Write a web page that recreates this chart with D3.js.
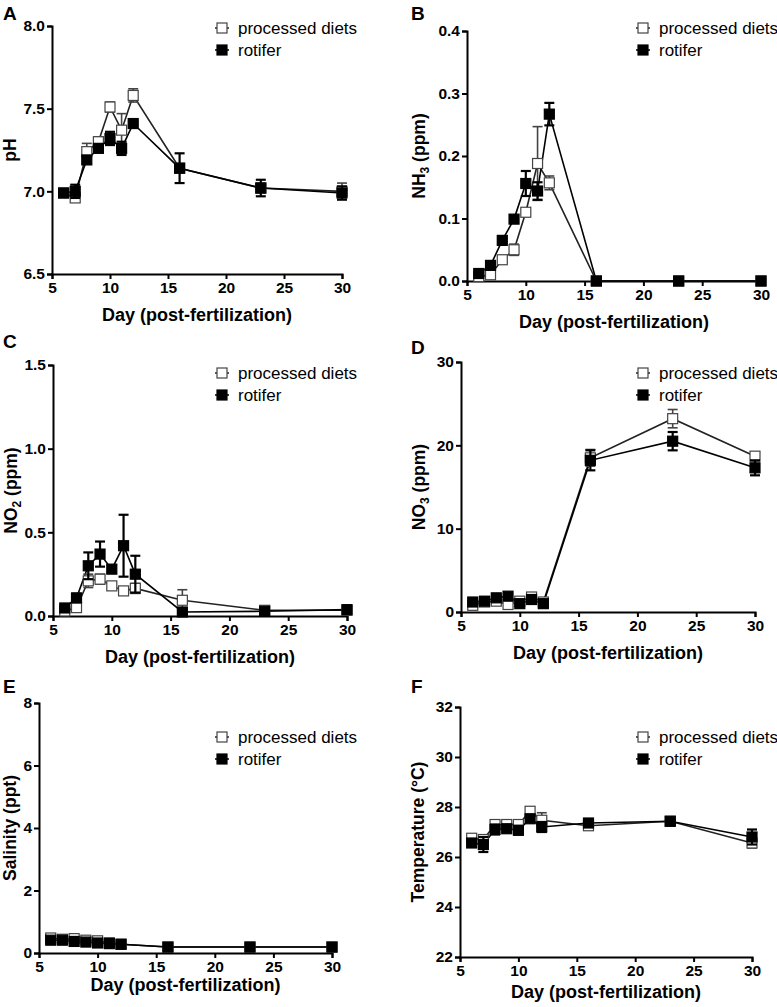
<!DOCTYPE html>
<html><head><meta charset="utf-8">
<script src="https://cdn.jsdelivr.net/npm/d3@7"></script>
<style>
body{margin:0;background:#fff;}
svg text{font-family:"Liberation Sans",Arial,sans-serif;}
</style></head>
<body><svg id="c" width="777" height="1007"></svg>
<script>
// ---- data ----
const days = [6,7,8,9,10,11,12,16,23,30];
const seriesNames = ["processed diets","rotifer"];

const phProc = [6.99,6.96,7.24,7.30,7.51,7.37,7.58,7.14,7.02,7.00];
const phProcErr = [0.02,0.02,0.05,0.03,0.03,0.10,0.04,0.02,0.03,0.05];
const phRot = [6.99,7.00,7.19,7.26,7.32,7.26,7.41,7.14,7.02,6.99];
const phRotErr = [0.02,0.04,0.02,0.02,0.04,0.04,0.01,0.09,0.05,0.04];

const nh3Proc = [0.007,0.010,0.034,0.050,0.110,0.188,0.157,0.0,0.0,0.0];
const nh3ProcErr = [0.002,0.003,0.004,0.009,0.004,0.059,0.011,0.0,0.0,0.0];
const nh3Rot = [0.012,0.025,0.065,0.099,0.156,0.144,0.267,0.0,0.0,0.0];
const nh3RotErr = [0.002,0.003,0.003,0.003,0.020,0.014,0.018,0.0,0.0,0.0];

const no2Proc = [0.03,0.05,0.21,0.22,0.18,0.15,0.165,0.094,0.034,0.034];
const no2ProcErr = [0.01,0.01,0.04,0.03,0.02,0.02,0.03,0.063,0.01,0.01];
const no2Rot = [0.048,0.108,0.30,0.37,0.28,0.42,0.25,0.024,0.028,0.038];
const no2RotErr = [0.01,0.025,0.08,0.075,0.02,0.185,0.11,0.02,0.01,0.01];

const no3Proc = [0.8,1.2,1.3,0.9,1.3,1.8,1.2,18.5,23.2,18.7];
const no3ProcErr = [0.2,0.2,0.3,0.3,0.3,0.3,0.3,1.0,1.1,0.4];
const no3Rot = [1.2,1.3,1.7,1.9,1.0,1.5,1.0,18.2,20.5,17.3];
const no3RotErr = [0.3,0.3,0.3,0.3,0.3,0.3,0.3,1.2,1.1,0.9];

const salProc = [0.48,0.44,0.46,0.41,0.39,0.33,0.28,0.19,0.19,0.19];
const salProcErr = [0.03,0.03,0.03,0.03,0.03,0.03,0.03,0.02,0.02,0.02];
const salRot = [0.41,0.41,0.37,0.35,0.32,0.30,0.28,0.19,0.19,0.19];
const salRotErr = [0.03,0.03,0.03,0.03,0.03,0.03,0.03,0.02,0.02,0.02];

const tmpProc = [26.75,26.7,27.3,27.3,27.3,27.83,27.47,27.25,27.43,26.56];
const tmpProcErr = [0.08,0.1,0.12,0.08,0.1,0.15,0.3,0.05,0.05,0.2];
const tmpRot = [26.56,26.5,27.1,27.13,27.07,27.53,27.2,27.36,27.43,26.8];
const tmpRotErr = [0.08,0.3,0.2,0.08,0.17,0.1,0.2,0.05,0.05,0.3];

const xTicks = [5,10,15,20,25,30];
const phTicks = [6.5,7.0,7.5,8.0];
const nh3Ticks = [0.0,0.1,0.2,0.3,0.4];
const no2Ticks = [0.0,0.5,1.0,1.5];
const no3Ticks = [0,10,20,30];
const salTicks = [0,2,4,6,8];
const tmpTicks = [22,24,26,28,30,32];

// ---- layout ----
const panels = [
 {letter:"A", yl:["pH"], ticks:phTicks, fmt:d3.format(".1f"), proc:phProc, pe:phProcErr, rot:phRot, re:phRotErr,
  x0:52,x1:342,yt:26,yb:274, lx:222, ly:28, lab:[3,20], ylx:10, tOff:47},
 {letter:"B", yl:["NH","3"," (ppm)"], ticks:nh3Ticks, fmt:d3.format(".1f"), proc:nh3Proc, pe:nh3ProcErr, rot:nh3Rot, re:nh3RotErr,
  x0:467,x1:761,yt:31,yb:281, lx:643, ly:28, lab:[411,20], ylx:419, tOff:47},
 {letter:"C", yl:["NO","2"," (ppm)"], ticks:no2Ticks, fmt:d3.format(".1f"), proc:no2Proc, pe:no2ProcErr, rot:no2Rot, re:no2RotErr,
  x0:53,x1:347,yt:365,yb:616, lx:222, ly:373, lab:[3,348], ylx:11, tOff:47},
 {letter:"D", yl:["NO","3"," (ppm)"], ticks:no3Ticks, fmt:d3.format("d"), proc:no3Proc, pe:no3ProcErr, rot:no3Rot, re:no3RotErr,
  x0:461,x1:755,yt:362,yb:612, lx:643, ly:373, lab:[411,354], ylx:419, tOff:47},
 {letter:"E", yl:["Salinity (ppt)"], ticks:salTicks, fmt:d3.format("d"), proc:salProc, pe:salProcErr, rot:salRot, re:salRotErr,
  x0:39,x1:332,yt:703,yb:953, lx:222, ly:737, lab:[3,693], ylx:10, tOff:38},
 {letter:"F", yl:["Temperature (°C)"], ticks:tmpTicks, fmt:d3.format("d"), proc:tmpProc, pe:tmpProcErr, rot:tmpRot, re:tmpRotErr,
  x0:460,x1:752,yt:707,yb:957, lx:643, ly:737, lab:[411,693], ylx:418, tOff:41}
];

const svg = d3.select("#c");
const MS = 10; // marker size

panels.forEach(p => {
  const g = svg.append("g");
  const x = d3.scaleLinear().domain([5,30]).range([p.x0,p.x1]);
  const y = d3.scaleLinear().domain([p.ticks[0], p.ticks[p.ticks.length-1]]).range([p.yb,p.yt]);

  // axes
  const xa = g.append("g").attr("transform",`translate(0,${p.yb})`)
    .call(d3.axisBottom(x).tickValues(xTicks).tickSize(5).tickPadding(3).tickFormat(d3.format("d")));
  const ya = g.append("g").attr("transform",`translate(${p.x0},0)`)
    .call(d3.axisLeft(y).tickValues(p.ticks).tickSize(5).tickPadding(2).tickFormat(p.fmt));
  [xa,ya].forEach(a=>{
    a.select(".domain").attr("stroke","#000").attr("stroke-width",2);
    a.selectAll(".tick line").attr("stroke","#000").attr("stroke-width",2);
    a.selectAll(".tick text").attr("fill","#000").style("font-size","15.5px").style("font-weight","bold");
  });

  // axis titles
  g.append("text").attr("x",(p.x0+p.x1)/2).attr("y",p.yb+p.tOff).attr("text-anchor","middle")
    .style("font-size","18px").style("font-weight","bold").text("Day (post-fertilization)");
  const yt = g.append("text").attr("transform",`translate(${p.ylx},${(p.yt+p.yb)/2}) rotate(-90)`)
    .attr("text-anchor","middle").attr("dy","0.35em").style("font-size","17.5px").style("font-weight","bold");
  if (p.yl.length===1) yt.text(p.yl[0]);
  else {
    yt.append("tspan").text(p.yl[0]);
    yt.append("tspan").attr("dy","4").style("font-size","12px").text(p.yl[1]);
    yt.append("tspan").attr("dy","-4").text(p.yl[2]);
  }
  // panel letter
  g.append("text").attr("x",p.lab[0]).attr("y",p.lab[1]).style("font-size","19px").style("font-weight","bold").text(p.letter);

  const series = [
    {v:p.proc, e:p.pe, fill:"#fff", stroke:"#444", lineCol:"#222"},
    {v:p.rot, e:p.re, fill:"#000", stroke:"#000", lineCol:"#000"}
  ];
  const line = d3.line().x((d,i)=>x(days[i])).y(d=>y(d));
  series.forEach(s=>{
    g.append("path").datum(s.v).attr("d",line).attr("fill","none").attr("stroke",s.lineCol).attr("stroke-width",1.6);
  });
  series.forEach(s=>{
    const eg = g.append("g");
    s.v.forEach((v,i)=>{
      const e = s.e[i]; if(!e) return;
      const cx = x(days[i]);
      const yh = y(v+e), yl = y(v-e);
      eg.append("line").attr("x1",cx).attr("x2",cx).attr("y1",yh).attr("y2",yl).attr("stroke",s.stroke).attr("stroke-width",s.fill==="#000"?2.2:1.6);
      [yh,yl].forEach(yy=>eg.append("line").attr("x1",cx-5).attr("x2",cx+5).attr("y1",yy).attr("y2",yy).attr("stroke",s.stroke).attr("stroke-width",s.fill==="#000"?2.2:1.6));
    });
    g.append("g").selectAll("rect").data(s.v).join("rect")
      .attr("x",(d,i)=>x(days[i])-MS/2).attr("y",d=>y(d)-MS/2).attr("width",MS).attr("height",MS)
      .attr("fill",s.fill).attr("stroke",s.stroke).attr("stroke-width",1.2);
  });

  // legend
  seriesNames.forEach((nm,k)=>{
    const s = series[k];
    const cy = p.ly + k*22;
    g.append("line").attr("x1",p.lx-7).attr("x2",p.lx+7).attr("y1",cy).attr("y2",cy).attr("stroke",s.lineCol).attr("stroke-width",1.5);
    g.append("rect").attr("x",p.lx-5).attr("y",cy-5).attr("width",10).attr("height",10).attr("fill",s.fill).attr("stroke",s.stroke).attr("stroke-width",1.2);
    g.append("text").attr("x",p.lx+16).attr("y",cy).attr("dy","0.35em").style("font-size","17px").text(nm);
  });
});
</script></body></html>
